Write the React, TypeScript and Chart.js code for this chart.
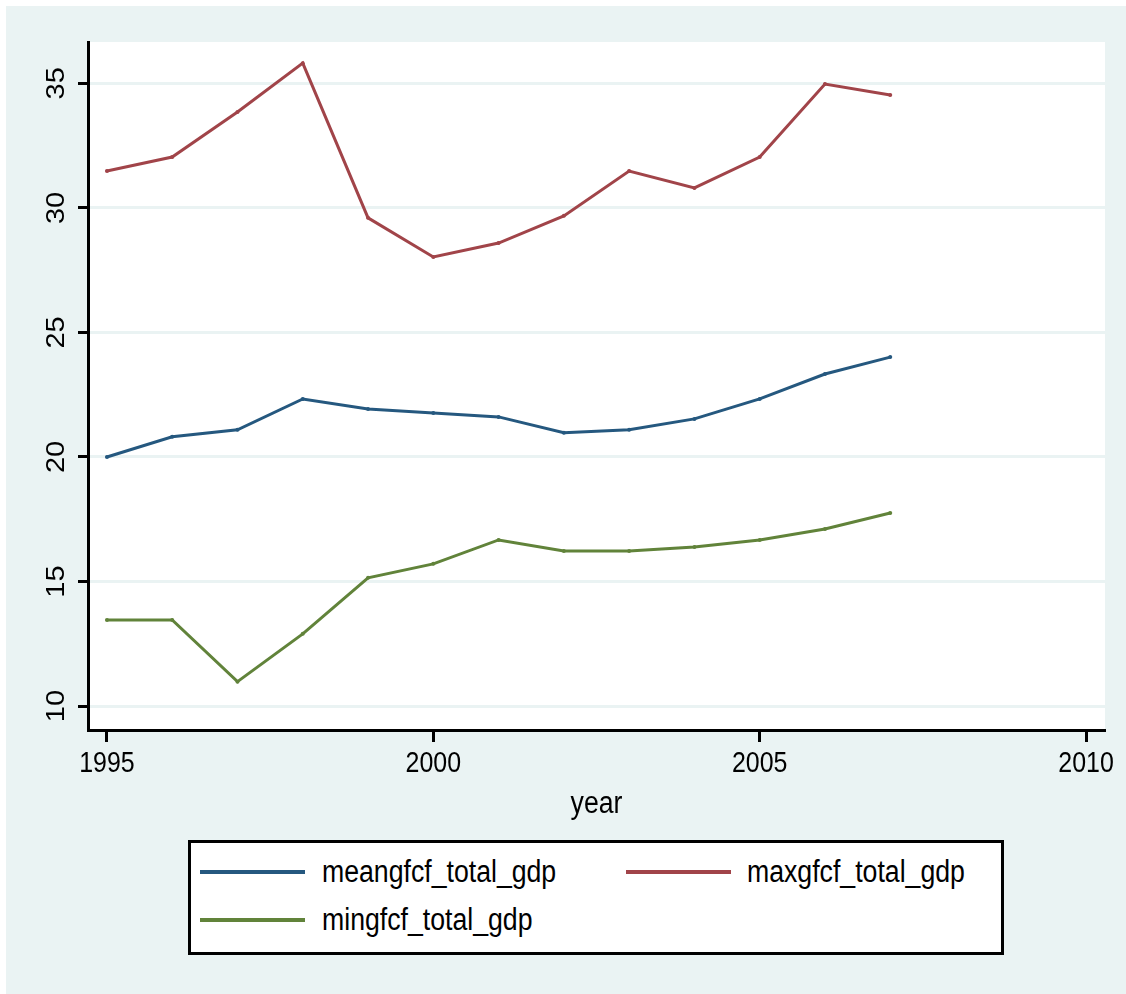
import React, { useEffect, useRef } from "react";
import { Chart, registerables } from "chart.js";

Chart.register(...registerables);

// Gross fixed capital formation as % of GDP, 1995–2007
const years = [1995, 1996, 1997, 1998, 1999, 2000, 2001, 2002, 2003, 2004, 2005, 2006, 2007];
const meanGfcf = [20.0, 20.81, 21.09, 22.33, 21.93, 21.77, 21.61, 20.97, 21.09, 21.53, 22.33, 23.33, 24.01];
const maxGfcf = [31.48, 32.04, 33.85, 35.81, 29.6, 28.03, 28.59, 29.68, 31.48, 30.8, 32.04, 34.97, 34.53];
const minGfcf = [13.46, 13.46, 10.98, 12.9, 15.15, 15.71, 16.67, 16.23, 16.23, 16.39, 16.67, 17.11, 17.75];

const seriesNames = ["meangfcf_total_gdp", "maxgfcf_total_gdp", "mingfcf_total_gdp"];
const seriesColors = ["#25587f", "#a14449", "#61833a"];

const xTickValues = [1995, 2000, 2005, 2010];
const yTickValues = [10, 15, 20, 25, 30, 35];
const xTitle = "year";

const FONT_FAMILY = "'Liberation Sans', Arial, Helvetica, sans-serif";
const REGION_BG = "#eaf3f3";
// Horizontal squeeze applied to all text (narrow Helvetica look)
const SQUASH = 0.86;

// White fill behind the plotting region
const plotBackground = {
  id: "plotBackground",
  beforeDraw(chart: Chart) {
    const { ctx, chartArea } = chart;
    ctx.save();
    ctx.fillStyle = "#ffffff";
    ctx.fillRect(chartArea.left, chartArea.top, chartArea.right - chartArea.left, chartArea.bottom - chartArea.top);
    ctx.restore();
  },
};

// Tick labels and axis title, drawn with a narrow horizontal scale
const axisLabels = {
  id: "axisLabels",
  afterDraw(chart: any) {
    const { ctx, chartArea, scales } = chart;
    ctx.save();
    ctx.fillStyle = "#000";
    ctx.textAlign = "center";
    ctx.textBaseline = "alphabetic";

    ctx.font = `29px ${FONT_FAMILY}`;
    const xBase = chartArea.bottom + 42;
    xTickValues.forEach((v) => {
      const px = scales.x.getPixelForValue(v);
      ctx.save();
      ctx.translate(px, xBase);
      ctx.scale(SQUASH, 1);
      ctx.fillText(String(v), 0, 0);
      ctx.restore();
    });

    const yBase = chartArea.left - 24;
    yTickValues.forEach((v) => {
      const py = scales.y.getPixelForValue(v);
      ctx.save();
      ctx.translate(yBase, py);
      ctx.scale(SQUASH, 1);
      ctx.rotate(-Math.PI / 2);
      ctx.fillText(String(v), 0, 0);
      ctx.restore();
    });

    ctx.font = `31px ${FONT_FAMILY}`;
    ctx.save();
    ctx.translate((chartArea.left + chartArea.right) / 2, chartArea.bottom + 83);
    ctx.scale(SQUASH, 1);
    ctx.fillText(xTitle, 0, 0);
    ctx.restore();

    ctx.restore();
  },
};

export default function App() {
  const canvasRef = useRef<HTMLCanvasElement | null>(null);

  useEffect(() => {
    document.body.style.margin = "0";
    const canvas = canvasRef.current;
    if (!canvas) return;

    const toPoints = (vals: number[]) => years.map((x, i) => ({ x, y: vals[i] }));
    const seriesValues = [meanGfcf, maxGfcf, minGfcf];

    const chart = new Chart(canvas, {
      type: "line",
      data: {
        datasets: seriesValues.map((vals, i) => ({
          label: seriesNames[i],
          data: toPoints(vals),
          borderColor: seriesColors[i],
          backgroundColor: seriesColors[i],
          borderWidth: 3,
          pointRadius: 2,
          pointBorderWidth: 0,
          pointBackgroundColor: seriesColors[i],
          tension: 0,
          fill: false,
        })),
      },
      options: {
        animation: false,
        responsive: false,
        layout: { padding: { left: 0, top: 42, right: 21, bottom: 174 } },
        plugins: {
          legend: { display: false },
          tooltip: { enabled: false },
        },
        scales: {
          x: {
            type: "linear",
            min: 1994.71,
            max: 2010.29,
            afterBuildTicks: (s: any) => {
              s.ticks = xTickValues.map((v) => ({ value: v }));
            },
            afterFit: (s: any) => {
              s.height = 90;
            },
            grid: {
              drawOnChartArea: false,
              drawTicks: true,
              tickLength: 12,
              tickWidth: 3,
              tickColor: "#000",
            },
            border: { color: "#000", width: 3 },
            ticks: { display: false },
          },
          y: {
            type: "linear",
            min: 9.04,
            max: 36.66,
            afterBuildTicks: (s: any) => {
              s.ticks = yTickValues.map((v) => ({ value: v }));
            },
            afterFit: (s: any) => {
              s.width = 88;
            },
            grid: {
              color: REGION_BG,
              lineWidth: 3,
              tickColor: "#000",
              tickLength: 10,
              tickWidth: 3,
            },
            border: { color: "#000", width: 3 },
            ticks: { display: false },
          },
        },
      },
      plugins: [plotBackground, axisLabels],
    } as any);

    return () => chart.destroy();
  }, []);

  const legendRows = [
    { idx: 0, lineLeft: 200, textLeft: 322, cy: 872 },
    { idx: 1, lineLeft: 626, textLeft: 747, cy: 872 },
    { idx: 2, lineLeft: 200, textLeft: 322, cy: 920 },
  ];
  const boxLeft = 188;
  const boxTop = 840;

  return (
    <div style={{ position: "relative", width: 1126, height: 994, background: "#ffffff", overflow: "hidden" }}>
      <div style={{ position: "absolute", left: 6, top: 6, right: 0, bottom: 0, background: REGION_BG }} />
      <canvas ref={canvasRef} width={1126} height={994} style={{ position: "absolute", left: 0, top: 0, display: "block" }} />
      <div
        style={{
          position: "absolute",
          left: boxLeft,
          top: boxTop,
          width: 816,
          height: 115,
          boxSizing: "border-box",
          border: "3px solid #000",
          background: "#ffffff",
        }}
      >
        {legendRows.map((r) => (
          <React.Fragment key={r.idx}>
            <div
              style={{
                position: "absolute",
                left: r.lineLeft - boxLeft - 3,
                top: r.cy - boxTop - 3 - 2,
                width: 105,
                height: 4,
                background: seriesColors[r.idx],
              }}
            />
            <span
              style={{
                position: "absolute",
                left: r.textLeft - boxLeft - 3,
                top: r.cy - boxTop - 3 - 18,
                height: 36,
                lineHeight: "36px",
                fontFamily: FONT_FAMILY,
                fontSize: 31,
                color: "#000",
                whiteSpace: "nowrap",
                transform: `scaleX(${SQUASH})`,
                transformOrigin: "left center",
              }}
            >
              {seriesNames[r.idx]}
            </span>
          </React.Fragment>
        ))}
      </div>
    </div>
  );
}
